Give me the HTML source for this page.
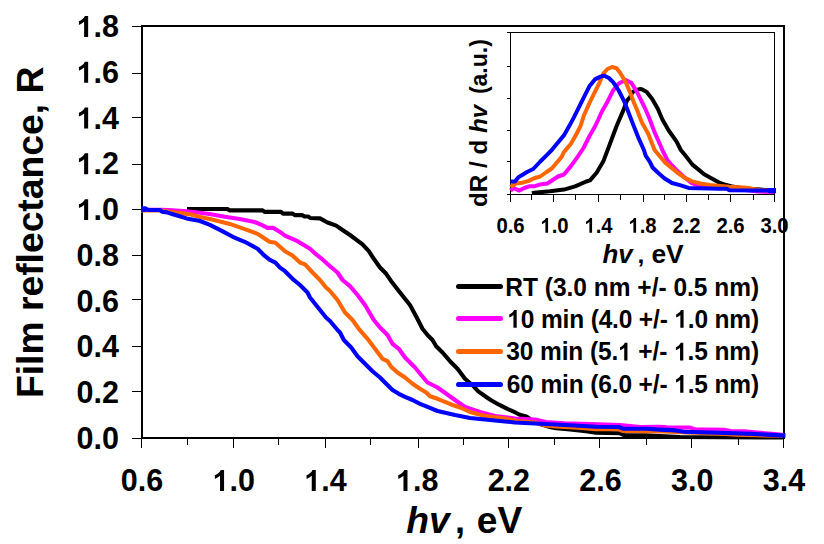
<!DOCTYPE html>
<html><head><meta charset="utf-8"><style>
html,body{margin:0;padding:0;background:#fff;overflow:hidden;}
svg{display:block;}
text{font-family:"Liberation Sans",sans-serif;font-weight:bold;fill:#000;}
.tl{font-size:30.5px;}
.o{fill:none;}
.at{font-size:36px;}
.lg{font-size:24.5px;}
.il{font-size:20.3px;}
.it{font-size:23px;}
</style></head><body>
<svg width="824" height="544" viewBox="0 0 824 544">
<rect width="824" height="544" fill="#fff"/>
<rect x="142" y="26" width="642" height="412" fill="none" stroke="#000" stroke-width="2"/>
<line x1="132" y1="438.5" x2="141" y2="438.5" stroke="#000" stroke-width="1"/>
<text x="119" y="449.0" text-anchor="end" class="tl">0.0</text>
<line x1="132" y1="391.5" x2="141" y2="391.5" stroke="#000" stroke-width="1"/>
<text x="119" y="403.22222222222223" text-anchor="end" class="tl">0.2</text>
<line x1="132" y1="346.5" x2="141" y2="346.5" stroke="#000" stroke-width="1"/>
<text x="119" y="357.44444444444446" text-anchor="end" class="tl">0.4</text>
<line x1="132" y1="299.5" x2="141" y2="299.5" stroke="#000" stroke-width="1"/>
<text x="119" y="311.66666666666663" text-anchor="end" class="tl">0.6</text>
<line x1="132" y1="255.5" x2="141" y2="255.5" stroke="#000" stroke-width="1"/>
<text x="119" y="265.8888888888889" text-anchor="end" class="tl">0.8</text>
<line x1="132" y1="209.5" x2="141" y2="209.5" stroke="#000" stroke-width="1"/>
<text x="119" y="220.11111111111111" text-anchor="end" class="tl"><tspan class="o">1</tspan>.0</text>
<line x1="132" y1="164.5" x2="141" y2="164.5" stroke="#000" stroke-width="1"/>
<text x="119" y="174.33333333333331" text-anchor="end" class="tl"><tspan class="o">1</tspan>.2</text>
<line x1="132" y1="117.5" x2="141" y2="117.5" stroke="#000" stroke-width="1"/>
<text x="119" y="128.55555555555554" text-anchor="end" class="tl"><tspan class="o">1</tspan>.4</text>
<line x1="132" y1="73.5" x2="141" y2="73.5" stroke="#000" stroke-width="1"/>
<text x="119" y="82.77777777777777" text-anchor="end" class="tl"><tspan class="o">1</tspan>.6</text>
<line x1="132" y1="26.5" x2="141" y2="26.5" stroke="#000" stroke-width="1"/>
<text x="119" y="37.0" text-anchor="end" class="tl"><tspan class="o">1</tspan>.8</text>
<line x1="141.5" y1="439" x2="141.5" y2="448" stroke="#000" stroke-width="1"/>
<text x="142.0" y="491" text-anchor="middle" class="tl">0.6</text>
<line x1="187.5" y1="439" x2="187.5" y2="445" stroke="#000" stroke-width="1"/>
<line x1="233.5" y1="439" x2="233.5" y2="448" stroke="#000" stroke-width="1"/>
<text x="233.71428571428572" y="491" text-anchor="middle" class="tl"><tspan class="o">1</tspan>.0</text>
<line x1="278.5" y1="439" x2="278.5" y2="445" stroke="#000" stroke-width="1"/>
<line x1="325.5" y1="439" x2="325.5" y2="448" stroke="#000" stroke-width="1"/>
<text x="325.42857142857144" y="491" text-anchor="middle" class="tl"><tspan class="o">1</tspan>.4</text>
<line x1="370.5" y1="439" x2="370.5" y2="445" stroke="#000" stroke-width="1"/>
<line x1="418.5" y1="439" x2="418.5" y2="448" stroke="#000" stroke-width="1"/>
<text x="417.1428571428572" y="491" text-anchor="middle" class="tl"><tspan class="o">1</tspan>.8</text>
<line x1="463.5" y1="439" x2="463.5" y2="445" stroke="#000" stroke-width="1"/>
<line x1="508.5" y1="439" x2="508.5" y2="448" stroke="#000" stroke-width="1"/>
<text x="508.8571428571429" y="491" text-anchor="middle" class="tl">2.2</text>
<line x1="554.5" y1="439" x2="554.5" y2="445" stroke="#000" stroke-width="1"/>
<line x1="599.5" y1="439" x2="599.5" y2="448" stroke="#000" stroke-width="1"/>
<text x="600.5714285714286" y="491" text-anchor="middle" class="tl">2.6</text>
<line x1="646.5" y1="439" x2="646.5" y2="445" stroke="#000" stroke-width="1"/>
<line x1="691.5" y1="439" x2="691.5" y2="448" stroke="#000" stroke-width="1"/>
<text x="692.2857142857144" y="491" text-anchor="middle" class="tl">3.0</text>
<line x1="738.5" y1="439" x2="738.5" y2="445" stroke="#000" stroke-width="1"/>
<line x1="783.5" y1="439" x2="783.5" y2="448" stroke="#000" stroke-width="1"/>
<text x="784.0000000000001" y="491" text-anchor="middle" class="tl">3.4</text>
<text transform="translate(43,398) rotate(-90)" class="at" textLength="331.3" lengthAdjust="spacingAndGlyphs">Film reflectance, R</text>
<g transform="translate(0,533) scale(1,1.035) translate(0,-533)">
<text x="406.3" y="533" class="at" font-style="italic" textLength="43.5" lengthAdjust="spacingAndGlyphs">hv</text>
<text x="455" y="533" class="at">,</text>
<text x="476.8" y="533" class="at" textLength="45.5" lengthAdjust="spacingAndGlyphs">eV</text>
</g>
<path d="M187.0,209.0 L227.5,209.0 L229.5,210.4 L262.6,210.4 L264.6,211.9 L281.0,211.9 L283.0,213.6 L292.7,213.6 L294.7,215.1 L302.4,215.1 L304.4,216.5 L308.3,216.5 L310.2,218.0 L320.0,218.4 L327.5,222.5 L336.2,225.6 L342.5,230.0 L350.0,235.0 L357.5,240.6 L362.5,244.4 L368.8,251.2 L373.8,258.8 L380.0,267.5 L386.2,273.8 L391.2,281.2 L400.0,292.5 L410.0,305.0 L417.5,319.0 L422.5,328.8 L427.5,335.0 L432.5,340.0 L436.2,346.2 L442.5,352.5 L450.0,361.2 L457.5,368.8 L465.0,378.8 L472.5,385.2 L478.3,391.4 L486.6,397.2 L491.5,400.5 L499.0,404.7 L507.3,408.8 L513.0,411.3 L519.7,414.8 L526.3,416.4 L530.0,419.0 L540.0,424.0 L550.0,427.0 L556.0,428.2 L570.0,429.4 L586.0,431.2 L596.0,432.7 L620.0,433.3 L624.0,435.0 L646.0,435.3 L660.0,436.0 L680.0,437.0 L783.0,437.5" fill="none" stroke="#000" stroke-width="4.1" stroke-linejoin="round" stroke-linecap="butt"/>
<path d="M141.0,209.8 L161.3,209.8 L169.0,210.0 L186.5,211.2 L196.3,212.2 L211.0,214.3 L224.8,216.8 L239.7,219.0 L254.6,222.0 L261.5,224.9 L267.5,227.9 L273.4,227.9 L280.0,231.9 L285.0,235.6 L297.5,241.2 L310.0,248.8 L316.2,254.4 L322.5,259.4 L330.0,266.2 L337.5,272.5 L342.5,280.0 L350.0,286.2 L357.5,295.0 L365.0,305.0 L373.8,320.0 L380.0,327.5 L387.5,335.0 L392.5,343.8 L398.8,348.8 L405.0,357.5 L415.0,367.5 L421.2,375.0 L427.5,382.5 L437.5,387.5 L455.0,400.0 L465.0,407.0 L480.0,412.0 L495.0,416.0 L515.0,418.5 L535.0,419.5 L546.0,422.0 L565.0,423.2 L590.0,424.0 L620.0,425.0 L630.0,426.0 L640.0,427.0 L659.0,426.8 L667.0,427.3 L690.0,427.6 L695.0,429.3 L725.0,429.9 L732.0,431.3 L744.0,431.4 L757.0,432.6 L765.0,433.2 L775.0,434.0 L784.0,435.0" fill="none" stroke="#FF00FF" stroke-width="4.1" stroke-linejoin="round" stroke-linecap="butt"/>
<path d="M141.0,210.4 L160.0,210.5 L166.0,211.3 L176.8,212.6 L191.0,214.5 L200.0,217.0 L209.9,219.0 L219.9,221.5 L229.8,223.9 L239.7,227.4 L249.6,230.9 L257.6,233.9 L263.5,237.8 L269.5,241.8 L275.4,242.8 L280.0,246.8 L285.0,251.2 L292.5,255.6 L300.0,262.5 L305.0,264.4 L312.5,272.5 L320.0,280.0 L326.0,287.5 L330.0,291.0 L337.5,300.0 L345.0,312.5 L352.5,320.0 L358.8,328.8 L367.5,338.8 L375.0,348.8 L382.5,358.8 L387.5,361.2 L391.2,366.9 L397.5,372.5 L405.0,377.5 L412.5,383.8 L420.0,388.8 L426.2,392.5 L430.0,396.2 L437.5,398.8 L445.0,401.9 L452.5,405.0 L460.0,407.5 L470.0,412.0 L485.0,416.0 L505.0,418.5 L520.0,421.4 L535.0,422.5 L546.0,425.5 L556.0,426.5 L578.0,427.6 L596.0,429.2 L619.0,429.3 L623.0,431.0 L646.0,431.2 L664.0,431.5 L676.0,432.0 L694.0,432.6 L706.0,433.1 L726.0,434.0 L735.0,434.6 L746.0,435.0 L783.0,435.8" fill="none" stroke="#FF6600" stroke-width="4.1" stroke-linejoin="round" stroke-linecap="butt"/>
<path d="M141.0,209.0 L146.5,209.0 L148.5,210.0 L160.0,210.0 L162.0,211.8 L167.0,212.4 L172.0,214.0 L178.0,215.8 L186.5,218.4 L200.0,221.0 L209.9,224.9 L221.8,230.9 L232.8,236.8 L244.7,241.8 L257.6,248.7 L264.5,255.7 L269.5,259.7 L275.4,262.6 L280.0,267.6 L285.0,271.2 L292.5,278.8 L300.0,285.0 L307.5,292.5 L310.0,297.5 L316.0,305.0 L326.0,317.5 L330.0,321.0 L337.5,330.0 L340.0,332.5 L343.8,340.0 L351.2,347.5 L357.5,356.2 L365.0,363.8 L372.5,371.2 L380.0,377.5 L386.2,383.8 L392.5,390.0 L398.8,393.8 L405.0,396.9 L412.5,400.0 L420.0,403.8 L427.5,406.9 L437.5,411.0 L455.0,415.0 L470.0,418.0 L485.0,419.5 L500.0,421.0 L515.0,422.5 L535.0,423.5 L546.0,424.0 L570.0,425.2 L596.0,426.8 L619.0,427.0 L623.0,428.6 L646.0,428.8 L660.0,429.6 L675.5,430.4 L684.0,431.8 L718.0,432.7 L752.0,433.9 L785.5,435.6" fill="none" stroke="#0000FF" stroke-width="4.1" stroke-linejoin="round" stroke-linecap="butt"/>
<rect x="141" y="206.3" width="5.6" height="5.6" fill="#0000FF"/>
<line x1="458.5" y1="286.5" x2="500.5" y2="286.5" stroke="#000" stroke-width="5" stroke-linecap="round"/>
<text transform="translate(0,296) scale(1,1.05) translate(0,-296)" x="505.3" y="296" class="lg" textLength="253.9" lengthAdjust="spacing">RT (3.0 nm +/- 0.5 nm)</text>
<line x1="458.5" y1="318.5" x2="500.5" y2="318.5" stroke="#FF00FF" stroke-width="5" stroke-linecap="round"/>
<text transform="translate(0,327.8) scale(1,1.05) translate(0,-327.8)" x="507.4" y="327.8" class="lg" textLength="251.7" lengthAdjust="spacing"><tspan class="o">1</tspan>0 min (4.0 +/- <tspan class="o">1</tspan>.0 nm)</text>
<line x1="458.5" y1="351.5" x2="500.5" y2="351.5" stroke="#FF6600" stroke-width="5" stroke-linecap="round"/>
<text transform="translate(0,360.5) scale(1,1.05) translate(0,-360.5)" x="506.3" y="360.5" class="lg" textLength="252.8" lengthAdjust="spacing">30 min (5.<tspan class="o">1</tspan> +/- <tspan class="o">1</tspan>.5 nm)</text>
<line x1="458.5" y1="384.5" x2="500.5" y2="384.5" stroke="#0000FF" stroke-width="5" stroke-linecap="round"/>
<text transform="translate(0,392.7) scale(1,1.05) translate(0,-392.7)" x="506.8" y="392.7" class="lg" textLength="252.3" lengthAdjust="spacing">60 min (6.0 +/- <tspan class="o">1</tspan>.5 nm)</text>
<rect x="510.5" y="32.5" width="264.0" height="162.0" fill="none" stroke="#000" stroke-width="1"/>
<line x1="507" y1="32.5" x2="510" y2="32.5" stroke="#000" stroke-width="1"/>
<line x1="507" y1="66.5" x2="510" y2="66.5" stroke="#000" stroke-width="1"/>
<line x1="507" y1="98.5" x2="510" y2="98.5" stroke="#000" stroke-width="1"/>
<line x1="507" y1="130.5" x2="510" y2="130.5" stroke="#000" stroke-width="1"/>
<line x1="507" y1="161.5" x2="510" y2="161.5" stroke="#000" stroke-width="1"/>
<line x1="507" y1="194.5" x2="510" y2="194.5" stroke="#000" stroke-width="1"/>
<line x1="510.5" y1="195" x2="510.5" y2="202" stroke="#000" stroke-width="1"/>
<text transform="translate(0,232.8) scale(1,1.06) translate(0,-232.8)" x="510.5" y="232.8" text-anchor="middle" class="il">0.6</text>
<line x1="531.5" y1="195" x2="531.5" y2="200" stroke="#000" stroke-width="1"/>
<line x1="553.5" y1="195" x2="553.5" y2="202" stroke="#000" stroke-width="1"/>
<text transform="translate(0,232.8) scale(1,1.06) translate(0,-232.8)" x="554.5" y="232.8" text-anchor="middle" class="il"><tspan class="o">1</tspan>.0</text>
<line x1="575.5" y1="195" x2="575.5" y2="200" stroke="#000" stroke-width="1"/>
<line x1="598.5" y1="195" x2="598.5" y2="202" stroke="#000" stroke-width="1"/>
<text transform="translate(0,232.8) scale(1,1.06) translate(0,-232.8)" x="598.5" y="232.8" text-anchor="middle" class="il"><tspan class="o">1</tspan>.4</text>
<line x1="620.5" y1="195" x2="620.5" y2="200" stroke="#000" stroke-width="1"/>
<line x1="643.5" y1="195" x2="643.5" y2="202" stroke="#000" stroke-width="1"/>
<text transform="translate(0,232.8) scale(1,1.06) translate(0,-232.8)" x="642.5" y="232.8" text-anchor="middle" class="il"><tspan class="o">1</tspan>.8</text>
<line x1="664.5" y1="195" x2="664.5" y2="200" stroke="#000" stroke-width="1"/>
<line x1="686.5" y1="195" x2="686.5" y2="202" stroke="#000" stroke-width="1"/>
<text transform="translate(0,232.8) scale(1,1.06) translate(0,-232.8)" x="686.5" y="232.8" text-anchor="middle" class="il">2.2</text>
<line x1="708.5" y1="195" x2="708.5" y2="200" stroke="#000" stroke-width="1"/>
<line x1="730.5" y1="195" x2="730.5" y2="202" stroke="#000" stroke-width="1"/>
<text transform="translate(0,232.8) scale(1,1.06) translate(0,-232.8)" x="730.5" y="232.8" text-anchor="middle" class="il">2.6</text>
<line x1="753.5" y1="195" x2="753.5" y2="200" stroke="#000" stroke-width="1"/>
<line x1="774.5" y1="195" x2="774.5" y2="202" stroke="#000" stroke-width="1"/>
<text transform="translate(0,232.8) scale(1,1.06) translate(0,-232.8)" x="774.5" y="232.8" text-anchor="middle" class="il">3.0</text>
<path d="M531.8,193.0 L549.9,191.3 L563.9,189.6 L575.1,186.4 L586.3,181.5 L590.0,180.4 L596.6,172.7 L603.2,161.6 L609.9,144.0 L616.5,126.3 L623.1,110.9 L627.1,100.3 L629.7,97.6 L632.7,91.9 L636.3,89.9 L639.7,89.1 L641.8,89.3 L646.7,91.9 L652.2,98.9 L657.8,108.7 L662.4,119.5 L668.7,130.5 L676.6,141.6 L680.8,150.0 L685.6,155.8 L692.4,164.6 L698.3,169.4 L704.1,174.3 L711.8,178.6 L720.0,183.0 L724.3,184.4 L731.0,186.2 L745.0,188.6 L774.0,190.4" fill="none" stroke="#000" stroke-width="4" stroke-linejoin="round"/>
<path d="M510.5,190.6 L513.8,188.0 L519.1,190.6 L524.4,188.0 L529.7,186.2 L535.0,186.2 L540.3,184.4 L547.4,183.5 L552.7,180.0 L558.0,176.5 L563.9,174.5 L570.9,166.1 L577.9,156.3 L583.5,148.0 L589.1,136.8 L594.7,127.0 L598.1,120.0 L601.9,111.5 L607.5,101.7 L613.1,90.5 L618.7,83.5 L625.7,80.0 L631.3,82.8 L636.9,91.9 L642.5,103.1 L645.8,110.0 L649.8,119.5 L654.5,132.1 L660.8,146.3 L662.3,150.0 L667.2,159.7 L672.0,165.5 L678.8,172.3 L685.6,178.2 L691.5,183.0 L698.3,185.4 L708.0,186.4 L720.0,186.9 L740.0,189.5 L758.0,191.6 L774.0,191.9" fill="none" stroke="#FF00FF" stroke-width="4" stroke-linejoin="round"/>
<path d="M510.5,187.0 L515.6,183.5 L522.6,182.7 L528.8,180.9 L534.1,178.2 L540.3,176.5 L546.5,172.0 L551.8,168.5 L556.2,163.2 L561.5,157.1 L563.9,152.1 L570.9,143.8 L576.5,134.0 L580.7,125.6 L583.8,115.7 L589.4,103.1 L594.9,91.9 L599.1,83.5 L603.3,73.6 L607.5,69.0 L612.0,67.0 L616.6,68.2 L620.1,72.8 L625.7,82.1 L629.9,91.9 L634.1,103.1 L637.1,110.0 L641.9,122.6 L648.2,133.7 L654.6,150.0 L659.4,155.8 L665.2,162.6 L671.1,167.5 L676.9,172.3 L683.7,177.2 L691.5,181.1 L700.2,183.5 L709.9,185.0 L720.0,185.9 L729.1,186.8 L746.6,187.8 L760.0,190.2 L774.0,190.4" fill="none" stroke="#FF6600" stroke-width="4" stroke-linejoin="round"/>
<path d="M510.5,181.5 L515.0,181.5 L518.2,177.4 L522.6,174.7 L527.0,172.0 L533.2,169.0 L540.3,161.5 L546.5,155.3 L551.8,150.0 L556.9,143.8 L563.9,135.4 L569.5,125.6 L574.0,117.1 L579.6,105.9 L585.2,94.7 L589.4,86.3 L594.9,79.4 L600.5,76.6 L604.0,75.6 L608.9,78.0 L613.1,82.1 L618.7,90.5 L624.3,101.7 L627.6,110.0 L632.4,122.6 L638.7,138.4 L643.9,150.0 L645.8,155.8 L649.7,161.7 L652.6,167.5 L657.5,172.3 L664.3,178.2 L672.0,183.0 L680.8,185.4 L688.5,187.9 L698.3,188.3 L720.0,188.8 L727.2,188.8 L729.1,190.2 L766.0,190.5 L775.0,190.5" fill="none" stroke="#0000FF" stroke-width="4" stroke-linejoin="round"/>
<rect x="768" y="188" width="8" height="5.2" fill="#0000FF"/>
<text transform="translate(486.5,207.1) rotate(-90)" class="it" textLength="102.4" lengthAdjust="spacingAndGlyphs">dR / d <tspan font-style="italic">hv</tspan></text>
<text transform="translate(486.5,94.1) rotate(-90)" class="it">(a.u.)</text>
<text x="602.5" y="262.9" class="it" style="font-size:25px" font-style="italic" textLength="30.2" lengthAdjust="spacingAndGlyphs">hv</text>
<text x="637.4" y="262.9" class="it" style="font-size:24.5px">,</text>
<text x="651.4" y="262.9" class="it" style="font-size:25.5px" textLength="32.3" lengthAdjust="spacingAndGlyphs">eV</text>
<path transform="translate(76.59,220.11) scale(0.014314,0.014314)" d="M807 0H526V-1059Q372 -915 163 -846V-1101Q273 -1137 402 -1237T579 -1466H807Z" fill="#000"/>
<path transform="translate(76.59,174.33) scale(0.014314,0.014314)" d="M807 0H526V-1059Q372 -915 163 -846V-1101Q273 -1137 402 -1237T579 -1466H807Z" fill="#000"/>
<path transform="translate(76.59,128.56) scale(0.014314,0.014314)" d="M807 0H526V-1059Q372 -915 163 -846V-1101Q273 -1137 402 -1237T579 -1466H807Z" fill="#000"/>
<path transform="translate(76.59,82.78) scale(0.014314,0.014314)" d="M807 0H526V-1059Q372 -915 163 -846V-1101Q273 -1137 402 -1237T579 -1466H807Z" fill="#000"/>
<path transform="translate(76.59,37.00) scale(0.014314,0.014314)" d="M807 0H526V-1059Q372 -915 163 -846V-1101Q273 -1137 402 -1237T579 -1466H807Z" fill="#000"/>
<path transform="translate(212.51,491.00) scale(0.014314,0.014314)" d="M807 0H526V-1059Q372 -915 163 -846V-1101Q273 -1137 402 -1237T579 -1466H807Z" fill="#000"/>
<path transform="translate(304.23,491.00) scale(0.014314,0.014314)" d="M807 0H526V-1059Q372 -915 163 -846V-1101Q273 -1137 402 -1237T579 -1466H807Z" fill="#000"/>
<path transform="translate(395.94,491.00) scale(0.014314,0.014314)" d="M807 0H526V-1059Q372 -915 163 -846V-1101Q273 -1137 402 -1237T579 -1466H807Z" fill="#000"/>
<path transform="translate(507.40,327.80) scale(0.011498,0.012073)" d="M807 0H526V-1059Q372 -915 163 -846V-1101Q273 -1137 402 -1237T579 -1466H807Z" fill="#000"/>
<path transform="translate(674.31,327.80) scale(0.011498,0.012073)" d="M807 0H526V-1059Q372 -915 163 -846V-1101Q273 -1137 402 -1237T579 -1466H807Z" fill="#000"/>
<path transform="translate(618.17,360.50) scale(0.011498,0.012073)" d="M807 0H526V-1059Q372 -915 163 -846V-1101Q273 -1137 402 -1237T579 -1466H807Z" fill="#000"/>
<path transform="translate(674.01,360.50) scale(0.011498,0.012073)" d="M807 0H526V-1059Q372 -915 163 -846V-1101Q273 -1137 402 -1237T579 -1466H807Z" fill="#000"/>
<path transform="translate(674.15,392.70) scale(0.011498,0.012073)" d="M807 0H526V-1059Q372 -915 163 -846V-1101Q273 -1137 402 -1237T579 -1466H807Z" fill="#000"/>
<path transform="translate(540.39,232.80) scale(0.009527,0.010098)" d="M807 0H526V-1059Q372 -915 163 -846V-1101Q273 -1137 402 -1237T579 -1466H807Z" fill="#000"/>
<path transform="translate(584.39,232.80) scale(0.009527,0.010098)" d="M807 0H526V-1059Q372 -915 163 -846V-1101Q273 -1137 402 -1237T579 -1466H807Z" fill="#000"/>
<path transform="translate(628.39,232.80) scale(0.009527,0.010098)" d="M807 0H526V-1059Q372 -915 163 -846V-1101Q273 -1137 402 -1237T579 -1466H807Z" fill="#000"/>
<line x1="784" y1="25" x2="784" y2="300" stroke="#000" stroke-width="2"/>
</svg>
</body></html>
